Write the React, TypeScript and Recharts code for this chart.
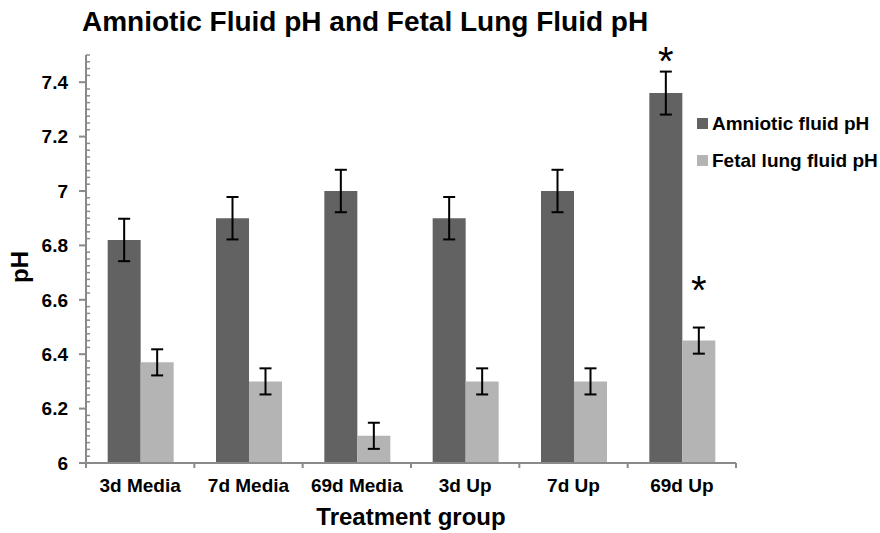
import { Bar, BarChart, ErrorBar, LabelList, XAxis, YAxis } from "recharts";

// values
const groups = ["3d Media", "7d Media", "69d Media", "3d Up", "7d Up", "69d Up"];
const amnioticPh = [6.82, 6.9, 7.0, 6.9, 7.0, 7.36];
const amnioticErr = [0.078, 0.078, 0.078, 0.078, 0.078, 0.079];
const fetalPh = [6.37, 6.3, 6.1, 6.3, 6.3, 6.45];
const fetalErr = [0.048, 0.048, 0.048, 0.048, 0.048, 0.048];
// where the significance asterisks sit, in pH units
const amnioticStar = [null, null, null, null, null, 7.506];
const fetalStar = [null, null, null, null, null, 6.664];
const majorTicks = [6, 6.2, 6.4, 6.6, 6.8, 7, 7.2, 7.4];
const yDomain: [number, number] = [6, 7.5];
const minorStep = 0.025;

const DARK = "#626262";
const LIGHT = "#b4b4b4";
const AXIS = "#8a8a8a";
const FONT = "'Liberation Sans', Arial, sans-serif";
const Y_MARGIN = 18;
const X_MARGIN = 16;

const data = groups.map((g, i) => ({
  group: g,
  amniotic: amnioticPh[i],
  amnioticErr: amnioticErr[i],
  amnioticStar: amnioticStar[i],
  fetal: fetalPh[i],
  fetalErr: fetalErr[i],
  fetalStar: fetalStar[i],
}));

const allTicks: number[] = [];
for (let i = 0; yDomain[0] + i * minorStep <= yDomain[1] + 1e-9; i++) {
  allTicks.push(Math.round((yDomain[0] + i * minorStep) * 1000) / 1000);
}
const isMajor = (v: number) => majorTicks.some((t) => Math.abs(t - v) < 1e-6);

function YTick(props: any) {
  const { x, y, payload } = props;
  const v = payload.value as number;
  const ax = x + Y_MARGIN;
  if (!isMajor(v)) {
    return <line x1={ax} x2={ax + 4} y1={y} y2={y} stroke={AXIS} strokeWidth={1.5} />;
  }
  return (
    <g>
      <line x1={ax - 7} x2={ax} y1={y} y2={y} stroke={AXIS} strokeWidth={2} />
      <text x={x} y={y} dy="0.36em" textAnchor="end" fontSize={19} fontWeight="bold" fontFamily={FONT} fill="#000">
        {String(v)}
      </text>
    </g>
  );
}

function XTick(props: any) {
  const { x, y, payload, index } = props;
  const ax = y - X_MARGIN;
  const half = payload.offset ?? 0;
  return (
    <g>
      <line x1={x - half} x2={x - half} y1={ax} y2={ax + 5} stroke={AXIS} strokeWidth={2} />
      {index === groups.length - 1 && (
        <line x1={x + half} x2={x + half} y1={ax} y2={ax + 5} stroke={AXIS} strokeWidth={2} />
      )}
      <text x={x} y={y} dy="0.71em" textAnchor="middle" fontSize={19} fontWeight="bold" fontFamily={FONT} fill="#000">
        {payload.value}
      </text>
    </g>
  );
}

function starLabel(values: number[]) {
  return (props: any) => {
    const { x, y, width, height, value, index } = props;
    if (value == null) return null;
    const v = values[index];
    const perUnit = height / (v - yDomain[0]);
    const cy = y - (value - v) * perUnit;
    return (
      <text x={x + width / 2} y={cy + 22} textAnchor="middle" fontSize={40} fontFamily={FONT} fill="#000">
        *
      </text>
    );
  };
}

const legendItems = [
  { name: "Amniotic fluid pH", color: DARK },
  { name: "Fetal lung fluid pH", color: LIGHT },
];

export default function App() {
  return (
    <div style={{ position: "absolute", left: 0, top: 0, width: 880, height: 533, background: "#fff" }}>
      <div
        style={{
          position: "absolute",
          left: 82,
          top: 8,
          fontFamily: FONT,
          fontWeight: "bold",
          fontSize: 28,
          lineHeight: "28px",
          color: "#000",
          whiteSpace: "nowrap",
        }}
      >
        Amniotic Fluid pH and Fetal Lung Fluid pH
      </div>
      <BarChart
        width={880}
        height={533}
        data={data}
        margin={{ top: 55, right: 144, bottom: 0, left: 0 }}
        barCategoryGap="20%"
        barGap={0}
      >
        <XAxis
          dataKey="group"
          height={70}
          interval={0}
          tickLine={false}
          tickSize={0}
          tickMargin={X_MARGIN}
          tick={<XTick />}
          axisLine={{ stroke: AXIS, strokeWidth: 2 }}
          label={{
            content: (p: any) => {
              const vb = p.viewBox;
              return (
                <text
                  x={vb.x + vb.width / 2}
                  y={vb.y + 62}
                  textAnchor="middle"
                  fontSize={24}
                  fontWeight="bold"
                  fontFamily={FONT}
                  fill="#000"
                >
                  Treatment group
                </text>
              );
            },
          }}
        />
        <YAxis
          width={86}
          domain={yDomain}
          ticks={allTicks}
          interval={0}
          allowDataOverflow
          tickLine={false}
          tickSize={0}
          tickMargin={Y_MARGIN}
          tick={<YTick />}
          axisLine={{ stroke: AXIS, strokeWidth: 2 }}
          label={{
            content: (p: any) => {
              const vb = p.viewBox;
              const cx = vb.x + 28;
              const cy = vb.y + vb.height / 2 + 8;
              return (
                <text
                  x={cx}
                  y={cy}
                  transform={`rotate(-90, ${cx}, ${cy})`}
                  textAnchor="middle"
                  fontSize={24}
                  fontWeight="bold"
                  fontFamily={FONT}
                  fill="#000"
                >
                  pH
                </text>
              );
            },
          }}
        />
        <Bar dataKey="amniotic" fill={DARK} isAnimationActive={false}>
          <ErrorBar dataKey="amnioticErr" width={6} stroke="#000" strokeWidth={2} />
          <LabelList dataKey="amnioticStar" content={starLabel(amnioticPh)} />
        </Bar>
        <Bar dataKey="fetal" fill={LIGHT} isAnimationActive={false}>
          <ErrorBar dataKey="fetalErr" width={6} stroke="#000" strokeWidth={2} />
          <LabelList dataKey="fetalStar" content={starLabel(fetalPh)} />
        </Bar>
      </BarChart>
      <div
        style={{
          position: "absolute",
          left: 697,
          top: 105,
          fontFamily: FONT,
          fontSize: 19,
          fontWeight: "bold",
          color: "#000",
        }}
      >
        {legendItems.map((it) => (
          <div key={it.name} style={{ display: "flex", alignItems: "center", height: 37, whiteSpace: "nowrap" }}>
            <span style={{ display: "inline-block", width: 11, height: 11, background: it.color, marginRight: 4 }} />
            {it.name}
          </div>
        ))}
      </div>
    </div>
  );
}
